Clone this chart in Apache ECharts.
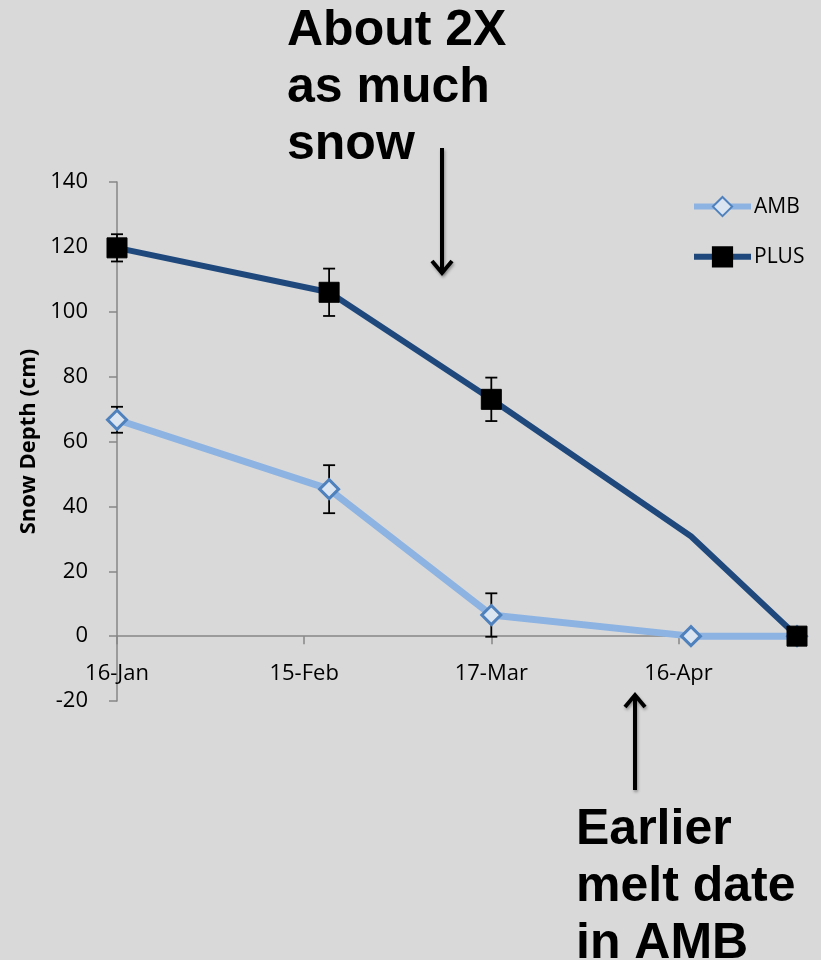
<!DOCTYPE html>
<html>
<head>
<meta charset="utf-8">
<script src="https://cdn.jsdelivr.net/npm/echarts@6/dist/echarts.min.js"></script>
<style>
  html, body { margin: 0; padding: 0; background: #d9d9d9; }
  #chart { width: 821px; height: 960px; }
</style>
</head>
<body>
<div id="chart"></div>
<script>
// Sampling dates and snow depth (cm) for the two treatments
const sampleDates = ['2011-01-16', '2011-02-19', '2011-03-17', '2011-04-18', '2011-05-05'];
const ambDepth  = [66.7, 45.3, 6.5, 0, 0];
const ambErr    = [4.0, 7.4, 6.7, null, null];
const plusDepth = [119.7, 106.0, 73.0, 30.8, 0];
const plusErr   = [4.2, 7.3, 6.7, null, null];

// Date-axis ticks (30-day steps) and their labels
const tickDates  = ['2011-01-16', '2011-02-15', '2011-03-17', '2011-04-16'];
const tickLabels = ['16-Jan', '15-Feb', '17-Mar', '16-Apr'];

// Depth axis
const yMin = -20, yMax = 140, yStep = 20;

const DAY = 86400000;
const t0 = Date.parse(tickDates[0]);
const dayOf = d => Math.round((Date.parse(d) - t0) / DAY);
const xs = sampleDates.map(dayOf);
const tickDays = tickDates.map(dayOf);

const ambData = ambDepth.map((v, i) => [xs[i], v]);
const plusData = plusDepth.map((v, i) => {
  const item = { value: [xs[i], v] };
  if (i === 3) item.symbol = 'none';
  return item;
});
const errData = (vals, errs) => vals
  .map((v, i) => errs[i] == null ? null : [xs[i], v - errs[i], v + errs[i]])
  .filter(Boolean);

function errorBars(params, api) {
  const x = api.value(0);
  const lo = api.coord([x, api.value(1)]);
  const hi = api.coord([x, api.value(2)]);
  const cap = 6;
  const style = { stroke: '#000', lineWidth: 1.8 };
  return {
    type: 'group',
    children: [
      { type: 'line', shape: { x1: lo[0], y1: lo[1], x2: hi[0], y2: hi[1] }, style },
      { type: 'line', shape: { x1: lo[0] - cap, y1: lo[1], x2: lo[0] + cap, y2: lo[1] }, style },
      { type: 'line', shape: { x1: hi[0] - cap, y1: hi[1], x2: hi[0] + cap, y2: hi[1] }, style }
    ]
  };
}

const AXIS = '#868686';
const FONT = 'Open Sans';
const ARROW = { stroke: '#000', lineWidth: 4, shadowBlur: 3, shadowColor: 'rgba(0,0,0,0.35)', shadowOffsetX: 1, shadowOffsetY: 2 };

const chart = echarts.init(document.getElementById('chart'), null, { renderer: 'canvas' });
chart.setOption({
  backgroundColor: '#d9d9d9',
  animation: false,
  textStyle: { fontFamily: FONT },
  grid: { left: 117, right: 24, top: 182, bottom: 259, containLabel: false },
  legend: {
    orient: 'vertical',
    left: 691,
    top: 196,
    padding: 0,
    itemWidth: 57,
    itemHeight: 24,
    itemGap: 29,
    data: ['AMB', 'PLUS'],
    lineStyle: { width: 6 },
    textStyle: { fontFamily: FONT, fontSize: 21, color: '#000', padding: [0, 0, 0, -2] }
  },
  xAxis: {
    type: 'value',
    min: 0,
    max: xs[xs.length - 1],
    axisLine: { onZero: true, lineStyle: { color: AXIS, width: 1.5 } },
    axisTick: { show: true, length: 8, customValues: tickDays, lineStyle: { color: AXIS, width: 1.5 } },
    axisLabel: {
      customValues: tickDays,
      margin: -38,
      fontFamily: FONT, fontSize: 22, color: '#000',
      formatter: v => tickLabels[tickDays.indexOf(Math.round(v))] || ''
    },
    splitLine: { show: false }
  },
  yAxis: {
    type: 'value',
    min: yMin,
    max: yMax,
    interval: yStep,
    name: 'Snow Depth (cm)',
    nameLocation: 'middle',
    nameGap: 68,
    nameTextStyle: { fontFamily: FONT, fontSize: 22, fontWeight: 'bold', color: '#000' },
    axisLine: { show: true, lineStyle: { color: AXIS, width: 1.5 } },
    axisTick: { show: true, length: 8, lineStyle: { color: AXIS, width: 1.5 } },
    axisLabel: { margin: 29, fontFamily: FONT, fontSize: 22, color: '#000' },
    splitLine: { show: false }
  },
  series: [
    {
      type: 'custom',
      name: 'ambErr',
      renderItem: errorBars,
      data: errData(ambDepth, ambErr),
      encode: { x: 0, y: [1, 2] },
      z: 1,
      silent: true
    },
    {
      type: 'custom',
      name: 'plusErr',
      renderItem: errorBars,
      data: errData(plusDepth, plusErr),
      encode: { x: 0, y: [1, 2] },
      z: 1,
      silent: true
    },
    {
      name: 'AMB',
      type: 'line',
      data: ambData,
      z: 3,
      symbol: 'diamond',
      symbolSize: 19,
      lineStyle: { color: '#8db3e2', width: 7 },
      itemStyle: { color: '#dbe5f1', borderColor: '#4f81bd', borderWidth: 3 }
    },
    {
      name: 'PLUS',
      type: 'line',
      data: plusData,
      z: 4,
      symbol: 'rect',
      symbolSize: 20,
      lineStyle: { color: '#1f497d', width: 6 },
      itemStyle: { color: '#000', borderColor: '#000', borderWidth: 1 }
    }
  ],
  graphic: [
    {
      type: 'text', left: 287, top: 3,
      style: {
        text: 'About 2X\nas much\nsnow',
        font: 'bold 50px "Liberation Sans"',
        lineHeight: 57, fill: '#000'
      }
    },
    {
      type: 'text', left: 576, top: 802,
      style: {
        text: 'Earlier\nmelt date\nin AMB',
        font: 'bold 50px "Liberation Sans"',
        lineHeight: 57, fill: '#000'
      }
    },
    {
      type: 'group',
      children: [
        { type: 'line', shape: { x1: 442, y1: 148, x2: 442, y2: 272 }, style: ARROW },
        { type: 'polyline', shape: { points: [[432, 261], [442, 273], [452, 261]] },
          style: Object.assign({ fill: null, lineJoin: 'miter' }, ARROW) },
        { type: 'line', shape: { x1: 635, y1: 790, x2: 635, y2: 696 }, style: ARROW },
        { type: 'polyline', shape: { points: [[625, 707], [635, 695], [645, 707]] },
          style: Object.assign({ fill: null, lineJoin: 'miter' }, ARROW) }
      ]
    }
  ]
});
</script>
</body>
</html>
